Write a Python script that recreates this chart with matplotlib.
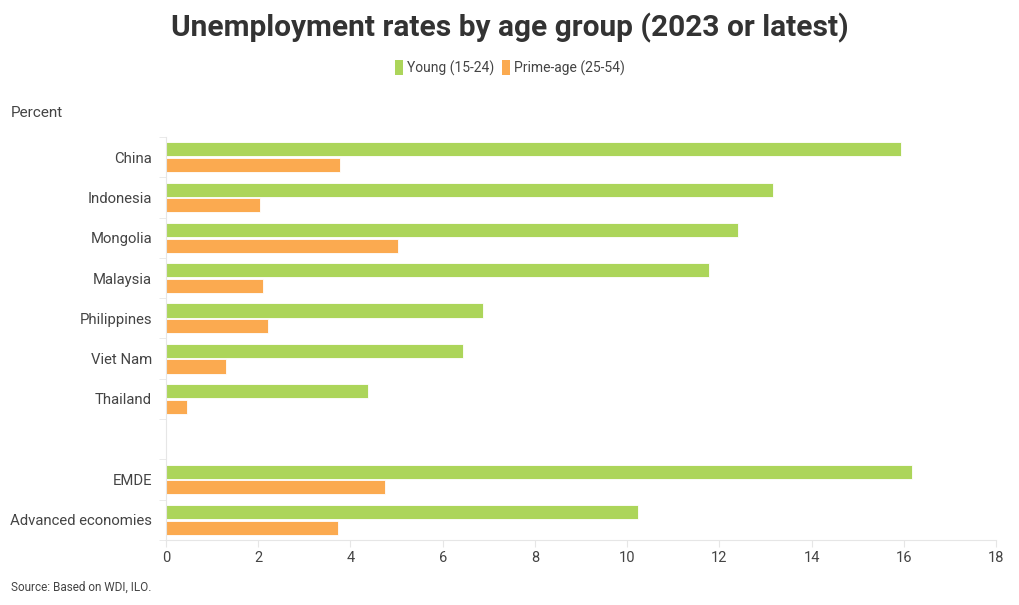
import matplotlib.pyplot as plt
import numpy as np
from matplotlib.patches import Patch

plt.rcParams['font.family'] = ['Roboto', 'DejaVu Sans']

countries = ["China", "Indonesia", "Mongolia", "Malaysia", "Philippines",
             "Viet Nam", "Thailand", "", "EMDE", "Advanced economies"]
young = [15.93, 13.17, 12.41, 11.78, 6.88, 6.44, 4.38, np.nan, 16.18, 10.24]
prime = [3.77, 2.04, 5.03, 2.10, 2.21, 1.30, 0.46, np.nan, 4.75, 3.73]

green = "#acd55a"
orange = "#fbaa50"
grid_c = "#e6e6e6"
txt = "#444444"

fig = plt.figure(figsize=(10.2, 6.05), dpi=100)
ax = fig.add_axes([0.1627, 0.1074, 0.8138, 0.6662])

y = np.arange(len(countries))
h = 0.35
ax.barh(y - h / 2 - 0.02, young, height=h, color=green, edgecolor="white", linewidth=0.6)
ax.barh(y + h / 2 + 0.02, prime, height=h, color=orange, edgecolor="white", linewidth=0.6)

ax.set_ylim(len(countries) - 0.5, -0.5)
ax.set_xlim(0, 18)
ax.set_xticks(np.arange(0, 19, 2))
ax.set_yticks(y)
ax.set_yticklabels(countries)
ax.set_yticks(np.arange(-0.5, len(countries), 1), minor=True)

for s in ["top", "right"]:
    ax.spines[s].set_visible(False)
ax.spines["left"].set_color(grid_c)
ax.spines["bottom"].set_color(grid_c)
ax.tick_params(axis="y", which="major", length=0, pad=10, labelsize=10.7, labelcolor=txt)
ax.tick_params(axis="y", which="minor", length=5, color=grid_c)
ax.tick_params(axis="x", length=5, color=grid_c, labelsize=10.5, labelcolor=txt, pad=3)

fig.text(0.5, 0.953, "Unemployment rates by age group (2023 or latest)", ha="center", va="center",
         fontsize=21.5, fontweight="bold", color="#333333")
fig.text(0.011, 0.813, "Percent", ha="left", va="center", fontsize=11, color=txt)
fig.text(0.011, 0.029, "Source: Based on WDI, ILO.", ha="left", va="center", fontsize=8.5, color=txt)

handles = [Patch(facecolor=green, label="Young (15-24)"),
           Patch(facecolor=orange, label="Prime-age (25-54)")]
fig.legend(handles=handles, loc="center", bbox_to_anchor=(0.5, 0.888), ncol=2, frameon=False,
           fontsize=10, handlelength=0.6, handleheight=1.3, handletextpad=0.3, columnspacing=0.5,
           labelcolor=txt)

fig.savefig("out.png", dpi=100)
